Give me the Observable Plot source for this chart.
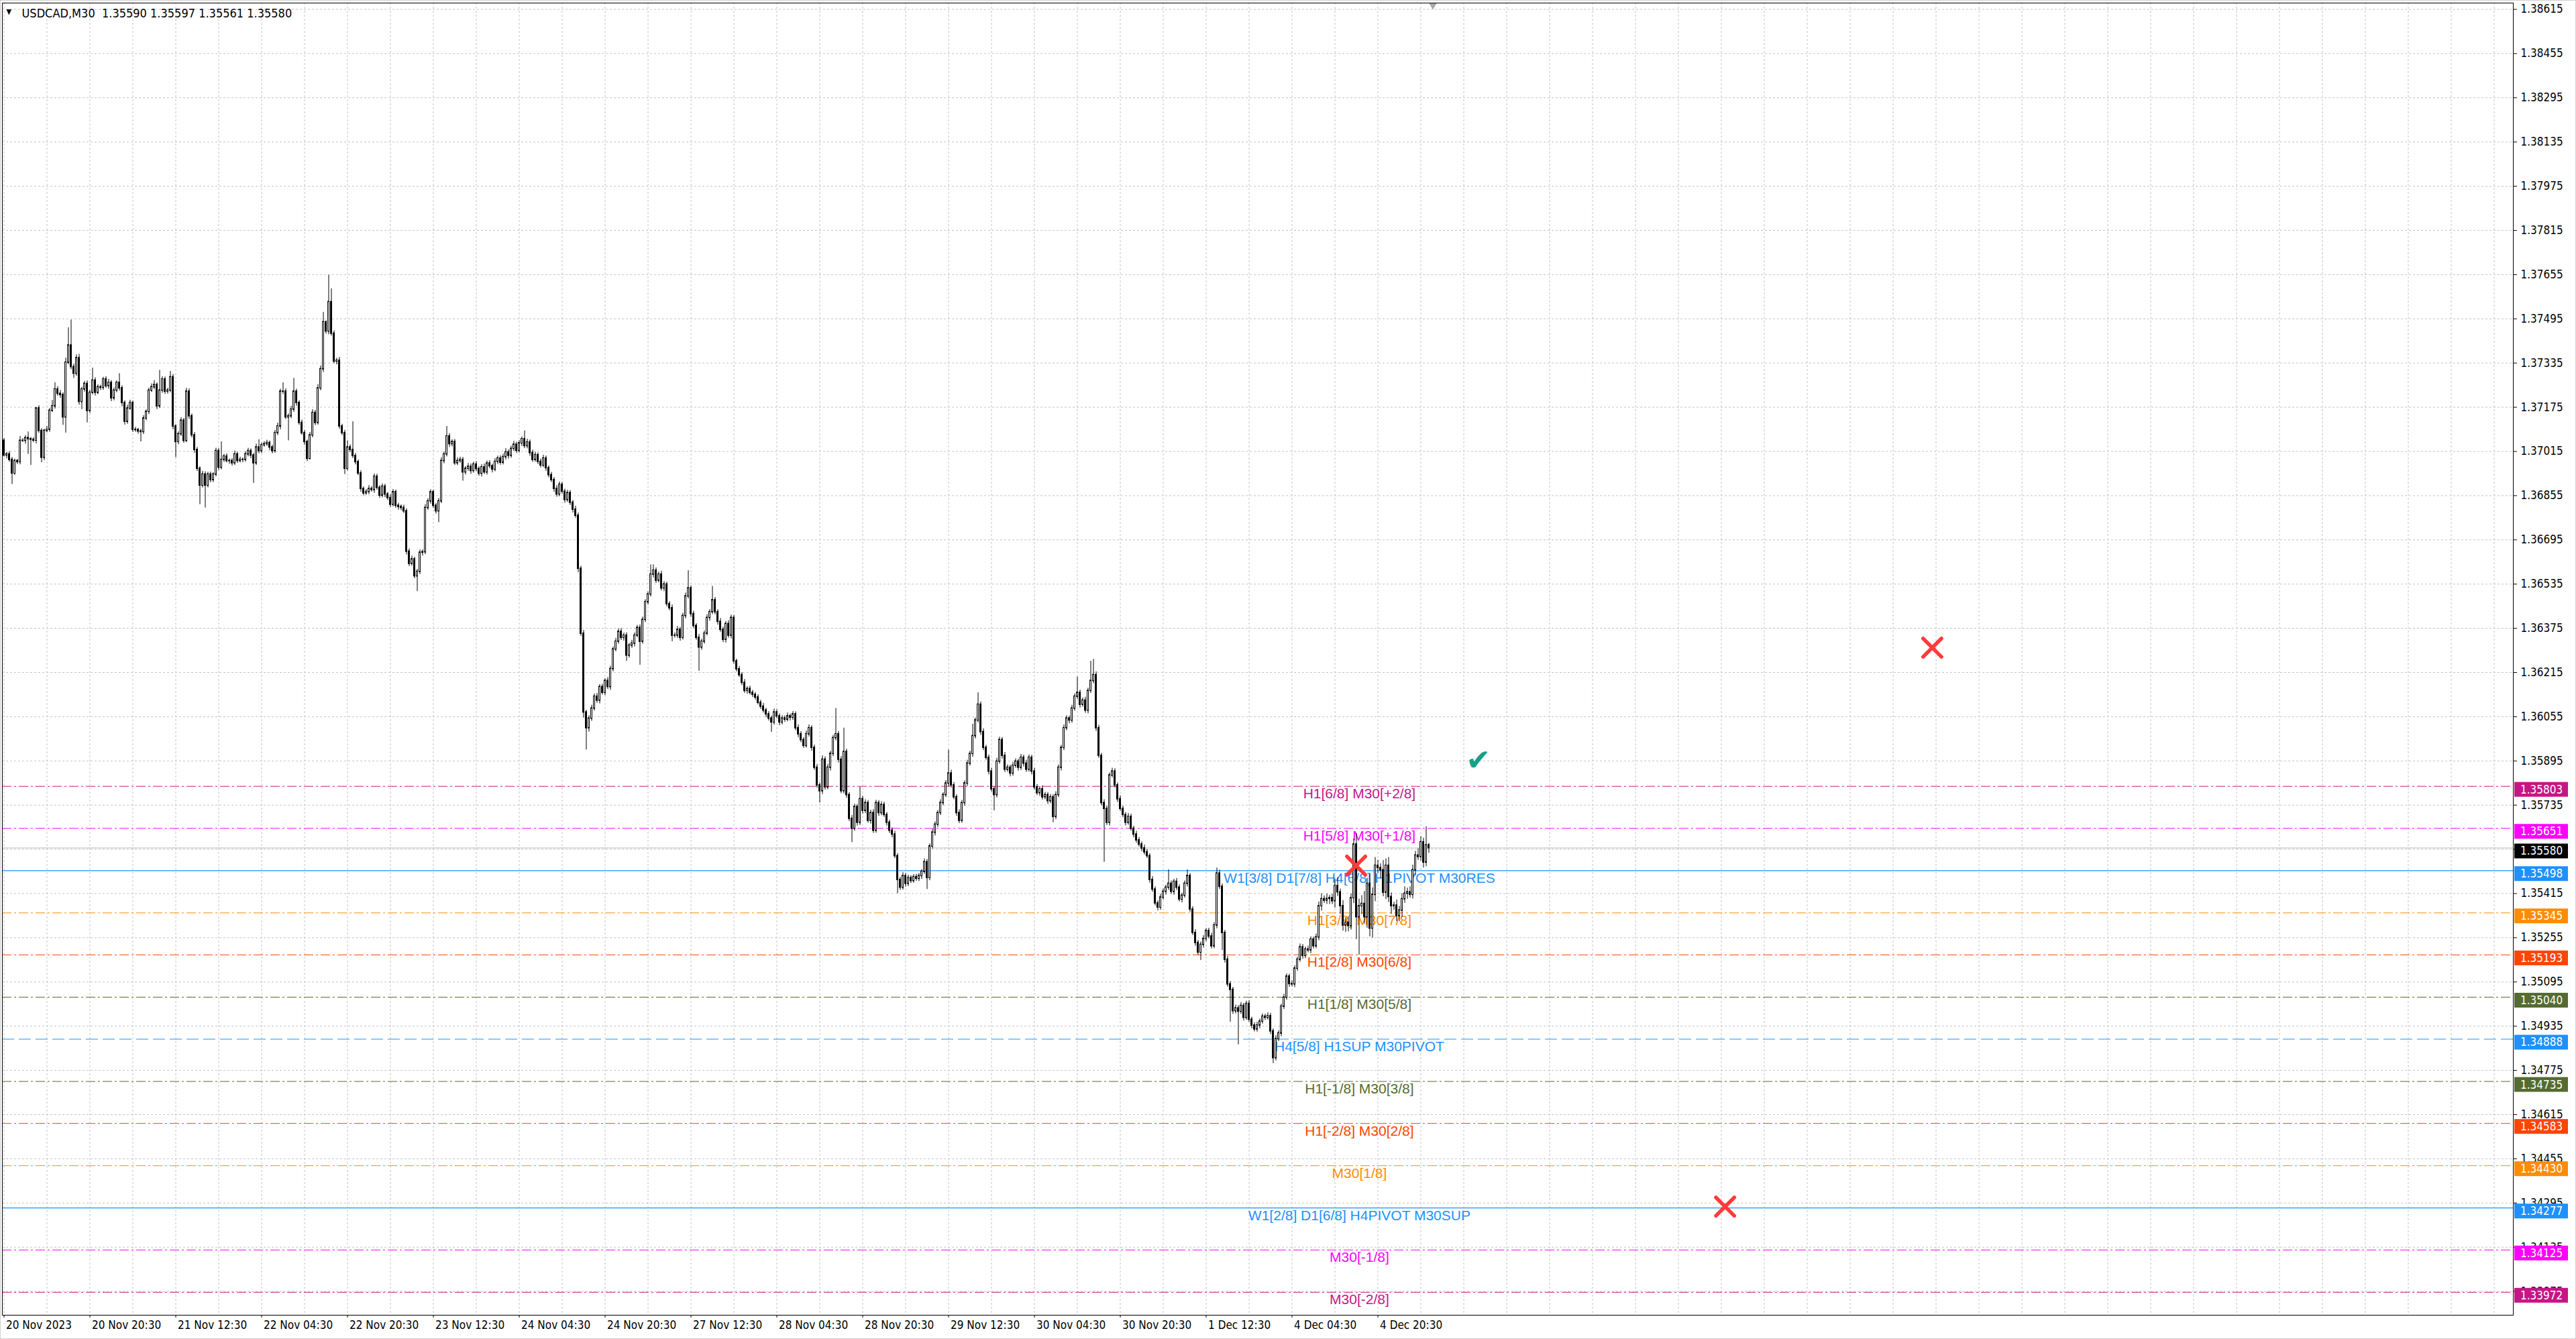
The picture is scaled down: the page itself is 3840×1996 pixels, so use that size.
<!DOCTYPE html>
<html><head><meta charset="utf-8">
<script src="https://cdn.jsdelivr.net/npm/d3@7"></script>
<script src="https://cdn.jsdelivr.net/npm/@observablehq/plot@0.6"></script>
<style>
html,body{margin:0;padding:0;background:#fff;overflow:hidden}
#chart svg{display:block}
</style></head>
<body><div id="chart"></div>
<script>
// ---------------- DATA ----------------
const symbol = "USDCAD,M30";
const lastBarOHLC = [1.35590, 1.35597, 1.35561, 1.35580];
// candle values in points (1e-5) above 1.30000
const firstOpen = 7054;
const closes = [
7001,7005,6985,6936,6981,6977,7054,7054,7064,7060,
7058,7055,7171,7090,6993,7090,7094,7163,7179,7240,
7224,7220,7139,7337,7399,7321,7297,7353,7195,7240,
7260,7162,7228,7272,7228,7248,7246,7276,7252,7264,
7208,7236,7264,7244,7191,7123,7171,7191,7094,7093,
7088,7086,7135,7159,7236,7248,7256,7179,7236,7276,
7232,7236,7284,7106,7050,7078,7127,7054,7232,7143,
7074,7021,6953,6892,6932,6892,6932,6912,6932,7017,
6957,6985,6997,6981,6981,6973,7005,6981,6985,6985,
7005,7017,7001,6973,7030,7017,7038,7042,7046,7030,
7017,7082,7106,7232,7232,7139,7143,7167,7232,7191,
7119,7082,7050,6989,7074,7155,7119,7244,7313,7483,
7450,7556,7442,7341,7344,7106,7082,6953,7030,7021,
6999,6977,6936,6880,6864,6869,6880,6876,6924,6884,
6856,6888,6860,6847,6823,6868,6819,6815,6811,6799,
6653,6609,6625,6564,6580,6649,6651,6811,6835,6868,
6819,6799,6835,6981,7005,7070,7042,7050,6973,6981,
6985,6940,6953,6960,6945,6968,6952,6935,6958,6940,
6972,6962,6950,6978,6990,6975,6995,7012,7000,7025,
7040,7018,7045,7060,7035,7048,7010,6985,7002,6978,
6965,6990,6955,6930,6912,6880,6860,6895,6870,6840,
6865,6830,6805,6783,6591,6356,6071,6014,6049,6085,
6128,6114,6163,6142,6185,6163,6228,6299,6327,6363,
6341,6349,6277,6313,6320,6349,6377,6327,6406,6470,
6498,6570,6584,6548,6570,6520,6534,6463,6448,6349,
6349,6370,6341,6420,6491,6520,6427,6384,6341,6306,
6327,6356,6413,6434,6477,6434,6399,6370,6334,6391,
6349,6413,6256,6227,6206,6178,6149,6156,6142,6135,
6125,6106,6092,6078,6064,6049,6035,6071,6057,6035,
6049,6045,6057,6052,6064,6014,5992,5971,5950,5992,
6014,5943,5871,5807,5786,5900,5800,5871,5921,5978,
5992,5900,5786,5928,5772,5686,5650,5729,5672,5757,
5715,5743,5679,5707,5643,5743,5707,5736,5700,5672,
5643,5629,5551,5465,5437,5479,5451,5472,5461,5475,
5469,5479,5494,5529,5472,5586,5636,5665,5707,5743,
5772,5814,5850,5807,5764,5707,5679,5743,5814,5886,
5921,5985,6042,6099,6000,5943,5907,5857,5793,5772,
5893,5971,5914,5864,5871,5850,5878,5893,5871,5907,
5886,5864,5907,5857,5800,5779,5793,5764,5772,5750,
5764,5693,5772,5871,5943,6014,6049,6042,6085,6128,
6142,6099,6114,6078,6149,6185,6206,6014,5914,5743,
5722,5672,5843,5857,5807,5757,5722,5700,5672,5693,
5650,5629,5608,5593,5579,5565,5551,5465,5430,5380,
5365,5401,5422,5437,5451,5422,5458,5437,5394,5408,
5451,5479,5358,5273,5237,5202,5230,5251,5280,5260,
5225,5300,5488,5440,5273,5176,5087,5067,4990,5000,
4988,5009,4966,5016,4959,4938,4924,4938,4952,4970,
4966,4972,4917,4820,4889,4909,5006,5039,5115,5088,
5087,5144,5176,5221,5190,5213,5210,5249,5225,5257,
5370,5395,5390,5396,5399,5388,5443,5420,5370,5300,
5310,5298,5399,5593,5330,5370,5378,5330,5451,5289,
5411,5516,5508,5500,5419,5516,5403,5370,5372,5334,
5354,5395,5415,5420,5411,5500,5553,5548,5601,5528,
5590,5580];
const upperWicks = [
8,6,10,9,7,5,16,8,9,22,
6,7,4,10,8,6,12,8,21,24,
10,12,8,16,64,92,10,12,14,8,
9,11,8,45,10,9,7,8,10,12,
8,10,7,33,9,8,12,10,7,9,
6,8,10,7,9,12,16,8,73,10,
9,8,21,10,7,9,11,8,12,10,
8,10,9,7,12,10,8,9,7,10,
9,65,8,10,7,9,12,8,10,7,
9,10,8,7,12,28,8,9,10,7,
8,10,12,9,32,10,8,12,48,9,
8,10,9,7,10,12,9,14,12,36,
5,97,48,10,9,12,8,10,24,9,
102,9,8,10,7,9,12,8,10,9,
8,10,9,7,12,10,8,9,7,10,
9,10,12,8,9,10,8,12,10,9,
8,9,10,12,9,36,10,8,9,12,
10,9,8,12,10,9,11,8,10,12,
9,10,8,12,9,10,11,14,9,10,
12,9,10,8,30,12,9,10,11,8,
10,12,9,8,10,9,12,10,8,9,
10,9,8,12,10,9,12,8,10,12,
10,12,9,10,8,12,10,9,12,10,
12,9,10,8,12,10,9,11,10,9,
9,35,21,10,9,12,10,8,9,12,
10,12,9,10,12,64,9,10,8,12,
9,10,12,9,50,10,9,12,10,9,
12,10,9,8,10,9,12,8,10,9,
8,10,9,12,8,10,9,12,10,9,
10,9,12,8,10,9,12,10,9,12,
12,9,10,12,9,14,10,12,9,10,
93,10,12,86,10,9,12,10,9,43,
10,12,9,10,12,10,9,12,10,9,
9,10,12,9,10,12,9,10,8,9,
10,9,8,12,10,9,12,10,9,12,
9,10,85,12,10,9,12,10,9,12,
10,43,9,43,10,12,9,10,12,9,
12,10,9,12,10,9,12,10,9,12,
9,12,10,9,12,10,9,12,10,9,
10,9,12,10,9,12,10,9,12,10,
57,10,9,12,10,71,57,12,10,9,
12,10,9,12,10,9,12,10,9,12,
10,9,12,10,9,12,10,9,12,10,
9,12,10,9,50,10,9,12,10,9,
10,22,9,10,12,9,10,12,9,10,
12,10,20,12,10,9,12,10,9,12,
10,12,9,10,12,9,10,12,9,10,
9,12,10,9,12,10,9,12,10,9,
12,10,9,12,10,9,12,10,9,12,
15,20,12,18,10,14,25,30,12,20,
18,22,15,20,40,25,30,45,20,35,
25,30,20,15,35,25,30,15,12,20,
15,20,25,15,20,18,15,25,20,15,
67,7];
const lowerWicks = [
6,12,8,40,7,9,10,6,12,55,
93,8,12,9,18,10,7,9,6,10,
9,12,29,57,8,10,17,9,12,28,
10,43,9,8,12,7,10,9,8,11,
12,9,8,10,14,12,9,7,10,8,
10,36,9,8,10,7,9,12,8,10,
10,9,8,12,57,10,8,9,7,12,
9,12,10,69,9,81,8,10,9,8,
10,8,9,7,12,10,8,9,7,10,
8,9,12,73,8,10,9,7,8,12,
10,8,9,12,10,8,85,9,10,12,
9,8,12,10,4,9,10,8,9,12,
10,12,9,8,12,10,9,21,8,10,
9,10,8,12,9,7,10,8,12,9,
10,8,12,9,10,8,9,12,10,8,
12,10,8,9,56,10,12,9,8,10,
9,10,41,8,10,9,12,10,8,9,
8,32,10,9,12,8,10,9,12,8,
10,9,12,8,10,9,8,10,12,9,
9,10,8,12,9,10,12,9,8,10,
9,8,12,10,9,12,10,8,9,12,
9,10,12,9,14,10,20,79,14,10,
9,10,12,8,10,9,12,10,8,9,
10,12,21,9,10,12,8,85,9,10,
10,9,12,10,8,9,12,10,9,22,
9,10,12,8,10,9,12,10,9,86,
10,9,8,12,9,10,12,9,10,12,
9,12,10,9,8,10,9,12,8,10,
9,8,10,9,12,9,36,10,9,12,
9,10,8,12,10,9,12,10,9,8,
10,12,9,10,43,12,10,9,12,10,
10,12,9,10,12,10,50,9,12,10,
12,10,9,12,10,9,12,10,9,12,
10,12,9,50,10,9,12,10,9,8,
9,10,12,9,42,10,9,12,10,9,
10,9,12,10,9,12,10,9,12,10,
9,12,10,9,12,10,9,12,10,57,
10,9,12,10,9,12,10,9,12,10,
12,10,9,12,10,9,12,10,9,12,
9,21,10,9,12,10,9,12,10,9,
10,12,9,10,12,9,10,12,9,10,
193,10,12,9,10,12,9,10,12,9,
9,12,10,9,12,10,9,12,10,9,
12,10,9,12,10,9,12,10,9,12,
9,12,10,9,12,10,29,12,10,9,
10,9,12,10,64,12,10,117,12,10,
120,10,12,9,10,12,9,10,12,9,
10,9,12,20,10,9,12,10,9,12,
9,12,10,9,12,10,9,12,10,9,
12,18,10,14,20,12,25,15,30,20,
25,21,15,20,81,138,30,25,40,30,
35,25,20,30,15,25,20,30,15,20,
20,25,15,20,12,15,20,12,15,20,
15,19];

const timeLabels = ["20 Nov 2023","20 Nov 20:30","21 Nov 12:30","22 Nov 04:30","22 Nov 20:30","23 Nov 12:30","24 Nov 04:30","24 Nov 20:30","27 Nov 12:30","28 Nov 04:30","28 Nov 20:30","29 Nov 12:30","30 Nov 04:30","30 Nov 20:30","1 Dec 12:30","4 Dec 04:30","4 Dec 20:30"];
const timeLabelBars = [0,32,64,96,128,160,192,224,256,288,320,352,384,416,448,480,512];
const priceTicks = [1.38615,1.38455,1.38295,1.38135,1.37975,1.37815,1.37655,1.37495,1.37335,1.37175,1.37015,1.36855,1.36695,1.36535,1.36375,1.36215,1.36055,1.35895,1.35735,1.35575,1.35415,1.35255,1.35095,1.34935,1.34775,1.34615,1.34455,1.34295,1.34135,1.33975];

const levelPrices = [1.35803,1.35651,1.35498,1.35345,1.35193,1.35040,1.34888,1.34735,1.34583,1.34430,1.34277,1.34125,1.33972];
const levelNames = ["H1[6/8] M30[+2/8]","H1[5/8] M30[+1/8]","W1[3/8] D1[7/8] H4[6/8] H1PIVOT M30RES","H1[3/8] M30[7/8]","H1[2/8] M30[6/8]","H1[1/8] M30[5/8]","H4[5/8] H1SUP M30PIVOT","H1[-1/8] M30[3/8]","H1[-2/8] M30[2/8]","M30[1/8]","W1[2/8] D1[6/8] H4PIVOT M30SUP","M30[-1/8]","M30[-2/8]"];
const levelColors = ["#C71585","#FF00FF","#1E90FF","#FF8C00","#FF4500","#556B2F","#1E90FF","#556B2F","#FF4500","#FF8C00","#1E90FF","#FF00FF","#C71585"];
const levelStyles = ["dashdot","dashdot","solid","dashdot","dashdot","dashdot","dash","dashdot","dashdot","dashdot","solid","dashdot","dashdot"];
const currentPrice = 1.35580;

const crossBars = [718.6, 641.4, 503.9];
const crossPrices = [1.36305, 1.34282, 1.35516];
const checkBars = [549.4];
const checkPrices = [1.35897];

// ---------------- BUILD ----------------
const nBars = closes.length;
if (upperWicks.length !== nBars || lowerWicks.length !== nBars) throw new Error("length mismatch " + nBars + " " + upperWicks.length + " " + lowerWicks.length);
const P = v => 1.3 + v * 1e-5;
const candles = closes.map((c, i) => {
  const o = i === 0 ? firstOpen : closes[i - 1];
  return {i, open: P(o), close: P(c), high: P(Math.max(o, c) + upperWicks[i]), low: P(Math.min(o, c) - lowerWicks[i]), up: c >= o};
});
const levels = levelPrices.map((p, k) => ({price: p, name: levelNames[k], color: levelColors[k], style: levelStyles[k]}));
const labelMap = new Map(timeLabelBars.map((b, k) => [b, timeLabels[k]]));
const gridBars = d3.range(0, 936, 16);
const LABEL_BAR = 505.1;
const dashFor = {dashdot: "14,4,3,4", dash: "18,7", solid: null};
const AXIS_FONT = '"DejaVu Sans Condensed","DejaVu Sans",sans-serif';
const LEVEL_FONT = '"Liberation Sans",Arial,sans-serif';

const levelMarks = [];
for (const l of levels) {
  levelMarks.push(Plot.ruleY([l.price], {stroke: l.color, strokeWidth: l.style === "solid" ? 1.3 : 1, strokeDasharray: dashFor[l.style]}));
}
const levelTextMarks = levels.map(l => Plot.text([l], {x: () => LABEL_BAR, y: "price", text: "name", fill: l.color, lineAnchor: "top", dy: 3, fontSize: 21, fontFamily: LEVEL_FONT}));

const title = symbol + "\u00a0\u00a0" + lastBarOHLC.map(v => v.toFixed(5)).join(" ");

const chart = Plot.plot({
  width: 3840, height: 1996,
  marginLeft: 3, marginRight: 94, marginTop: 4, marginBottom: 36,
  x: {domain: [-0.625, 935.125]},
  y: {domain: [1.33889, 1.38638]},
  style: {fontFamily: AXIS_FONT, fontSize: "17px", background: "white", color: "black"},
  marks: [
    Plot.ruleY(priceTicks, {stroke: "#c4c4c4", strokeDasharray: "3,3"}),
    Plot.ruleX(gridBars, {stroke: "#c4c4c4", strokeDasharray: "3,3"}),
    Plot.ruleY([currentPrice], {stroke: "#b8b8b8"}),
    ...levelMarks,
    ...levelTextMarks,
    Plot.ruleX(candles, {x: "i", y1: "low", y2: "high", stroke: "black"}),
    Plot.rect(candles.filter(d => d.up), {x1: d => d.i - 0.25, x2: d => d.i + 0.25, y1: "open", y2: "close", fill: "white", stroke: "black", insetTop: -0.5, insetBottom: -0.5}),
    Plot.rect(candles.filter(d => !d.up), {x1: d => d.i - 0.25, x2: d => d.i + 0.25, y1: "open", y2: "close", fill: "black", stroke: "black", insetTop: -0.5, insetBottom: -0.5}),
    Plot.dot(crossBars.map((b, k) => ({b, p: crossPrices[k]})), {x: "b", y: "p", symbol: "times", r: 12.5, stroke: "#FF3B3B", strokeWidth: 5.5, strokeLinecap: "round", ariaLabel: "cross-markers"}),
    Plot.text(checkBars.map((b, k) => ({b, p: checkPrices[k]})), {x: "b", y: "p", text: () => "\u2714", fill: "#16A085", fontSize: 44, fontFamily: '"DejaVu Sans",sans-serif', ariaLabel: "check-markers"}),
    Plot.dot([nBars + 0.5], {x: d => d, frameAnchor: "top", dy: 3, symbol: "triangle", rotate: 180, r: 4.5, fill: "#a8a8a8"}),
    Plot.frame({stroke: "black"}),
    Plot.axisY(priceTicks, {anchor: "right", tickSize: 5, tickPadding: 6, tickFormat: d => d.toFixed(5), fontSize: 17}),
    Plot.axisX(timeLabelBars, {anchor: "bottom", tickSize: 4, tickPadding: 4, textAnchor: "start", tickFormat: d => "\u2009" + labelMap.get(d), fontSize: 17}),
    Plot.text([title], {frameAnchor: "top-left", text: d => d, dx: 29, dy: 9, lineAnchor: "top", textAnchor: "start", fontSize: 18, fill: "black"}),
    Plot.text(["\u25BC"], {frameAnchor: "top-left", text: d => d, dx: 6, dy: 9, lineAnchor: "top", textAnchor: "start", fontSize: 11, fill: "black"})
  ]
});

document.getElementById("chart").appendChild(chart);

// price labels on the right axis, positioned with Plot's y scale
const yS = chart.scale("y");
const svg = d3.select(chart);
const boxes = levels.map(l => ({price: l.price, color: l.color})).concat([{price: currentPrice, color: "#000000"}]);
const g = svg.append("g").attr("font-family", AXIS_FONT).attr("font-size", 17).attr("text-anchor", "start");
for (const b of boxes) {
  const py = yS.apply(b.price);
  g.append("rect").attr("x", 3748).attr("y", py - 6).attr("width", 80).attr("height", 22).attr("fill", b.color);
  g.append("text").attr("x", 3757).attr("y", py + 5).attr("dy", "0.35em").attr("text-anchor", "start").attr("fill", "white").text(b.price.toFixed(5));
}
svg.select('g[aria-label="cross-markers"]').style("filter", "drop-shadow(2px 3px 2px rgba(0,0,0,0.35))");
svg.select('g[aria-label="check-markers"]').style("filter", "drop-shadow(2px 3px 2px rgba(0,0,0,0.35))");
svg.append("rect").attr("x", 0.5).attr("y", 0.5).attr("width", 3839).attr("height", 1995).attr("fill", "none").attr("stroke", "#d0d0d0");
</script>
</body></html>
